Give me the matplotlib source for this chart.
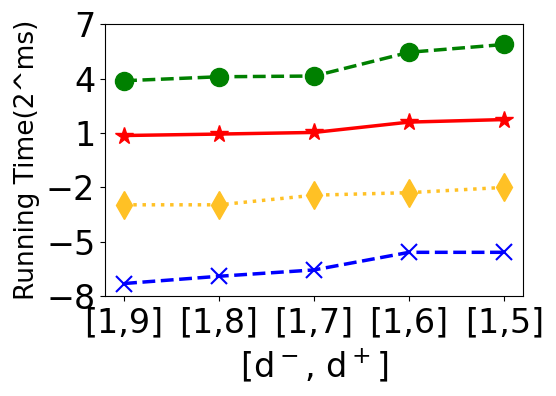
import matplotlib
matplotlib.use('Agg')
import matplotlib.pyplot as plt

labels = ['[1,9]', '[1,8]', '[1,7]', '[1,6]', '[1,5]']
green_vals = [3.88, 4.10, 4.14, 5.45, 5.88]
red_vals = [0.86, 0.94, 1.03, 1.60, 1.74]
gold_vals = [-2.96, -2.96, -2.43, -2.29, -2.0]
blue_vals = [-7.30, -6.90, -6.55, -5.58, -5.58]
yticks = [-8, -5, -2, 1, 4, 7]

x = list(range(len(labels)))

fig = plt.figure(figsize=(5.56, 3.96), dpi=100)
ax = fig.add_axes([0.189, 0.252, 0.752, 0.687])

ax.plot(x, green_vals, color='green', linestyle='--', linewidth=2.5, marker='o', markersize=13)
ax.plot(x, red_vals, color='red', linestyle='-', linewidth=2.5, marker='*', markersize=13)
ax.plot(x, gold_vals, color='#ffc125', linestyle=':', linewidth=2.5, marker='d', markersize=14)
ax.plot(x, blue_vals, color='blue', linestyle='--', linewidth=2.5, marker='x', markersize=12, markeredgewidth=1.5)

ax.set_xlim(-0.2, 4.2)
ax.set_ylim(-8, 7)
ax.set_xticks(x)
ax.set_xticklabels(labels)
ax.set_yticks(yticks)
ax.tick_params(axis='both', labelsize=24)

ax.set_xlabel('[d$^-$, d$^+$]', fontsize=24, labelpad=6)
ax.set_ylabel('Running Time(2^ms)', fontsize=19)

plt.savefig('out.png', dpi=100)
